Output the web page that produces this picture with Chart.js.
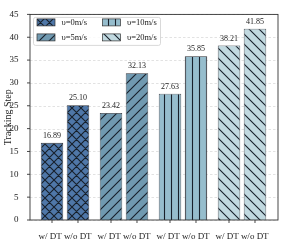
<!DOCTYPE html>
<html lang="en">
<head>
<meta charset="UTF-8">
<title>Tracking Step</title>
<script src="https://cdn.jsdelivr.net/npm/chart.js@4.4.0/dist/chart.umd.min.js"></script>
<style>
    html, body { margin: 0; padding: 0; background: #fff; }
</style>
</head>
<body>
<canvas id="myChart" width="283" height="240"></canvas>
<script>
    // data
    var groups = ['w/ DT w/o DT', 'w/ DT w/o DT', 'w/ DT w/o DT', 'w/ DT w/o DT'];
    var speeds = ['υ=0m/s', 'υ=5m/s', 'υ=10m/s', 'υ=20m/s'];
    var withDT = [16.89, 23.42, 27.63, 38.21];
    var withoutDT = [25.10, 32.13, 35.85, 41.85];
    var yTicks = [0, 5, 10, 15, 20, 25, 30, 35, 40, 45];

    var colors = ['#4f77a8', '#7099b0', '#96bdcd', '#c1d9e0'];
    var hatches = ['x', '/', '|', '\\'];
    var serif = "'Liberation Serif', 'DejaVu Serif', serif";
    var ink = '#18202b';

    function makePattern(color, hatch) {
        var size = hatch == '|' ? 7 : (hatch == 'x' ? 9 : 10);
        var c = document.createElement('canvas');
        c.width = size; c.height = size;
        var g = c.getContext('2d');
        g.fillStyle = color;
        g.fillRect(0, 0, size, size);
        g.strokeStyle = ink;
        g.lineWidth = 1.1;
        g.beginPath();
        if (hatch == '/' || hatch == 'x') {
            g.moveTo(0, size); g.lineTo(size, 0);
            g.moveTo(-1, 1); g.lineTo(1, -1);
            g.moveTo(size - 1, size + 1); g.lineTo(size + 1, size - 1);
        }
        if (hatch == '\\' || hatch == 'x') {
            g.moveTo(0, 0); g.lineTo(size, size);
            g.moveTo(size - 1, -1); g.lineTo(size + 1, 1);
            g.moveTo(-1, size - 1); g.lineTo(1, size + 1);
        }
        if (hatch == '|') {
            g.moveTo(3.5, 0); g.lineTo(3.5, size);
        }
        g.stroke();
        return g.createPattern(c, 'repeat');
    }

    var ctx = document.getElementById('myChart').getContext('2d');
    var patterns = colors.map(function (col, i) { return makePattern(col, hatches[i]); });

    var decor = {
        id: 'decor',
        beforeDatasetsDraw: function (chart) {
            var c = chart.ctx, a = chart.chartArea, y = chart.scales.y;
            var L = a.left - 5.5, R = a.right + 6.5;
            c.save();
            c.strokeStyle = '#d6d6d6';
            c.lineWidth = 0.7;
            c.setLineDash([2.5, 2]);
            yTicks.forEach(function (v) {
                var py = Math.round(y.getPixelForValue(v)) + 0.5;
                c.beginPath(); c.moveTo(L, py); c.lineTo(R, py); c.stroke();
            });
            c.restore();
        },
        afterDatasetsDraw: function (chart) {
            var c = chart.ctx, a = chart.chartArea, y = chart.scales.y;
            var L = a.left - 5.5, R = a.right + 6.5;
            c.save();

            // value labels
            c.fillStyle = '#222';
            c.font = '8px ' + serif;
            c.textAlign = 'center';
            c.textBaseline = 'bottom';
            chart.data.datasets.forEach(function (ds, di) {
                chart.getDatasetMeta(di).data.forEach(function (bar, j) {
                    c.fillText(ds.data[j].toFixed(2), bar.x, bar.y - 3);
                });
            });

            // frame + ticks
            c.strokeStyle = '#333';
            c.lineWidth = 0.9;
            c.strokeRect(L, a.top, R - L, a.bottom - a.top);
            c.beginPath();
            yTicks.forEach(function (v) {
                var py = y.getPixelForValue(v);
                c.moveTo(L - 3, py); c.lineTo(L, py);
            });
            chart.data.datasets.forEach(function (ds, di) {
                chart.getDatasetMeta(di).data.forEach(function (bar) {
                    c.moveTo(bar.x, a.bottom); c.lineTo(bar.x, a.bottom + 3);
                });
            });
            c.stroke();

            // legend
            var bx = a.left - 2, by = a.top + 3, bw = 127, bh = 28;
            c.fillStyle = 'rgba(255,255,255,0.85)';
            c.strokeStyle = '#cfcfcf';
            c.lineWidth = 0.8;
            c.beginPath();
            c.roundRect(bx, by, bw, bh, 2);
            c.fill(); c.stroke();
            c.font = '8.5px ' + serif;
            c.textAlign = 'left';
            c.textBaseline = 'middle';
            speeds.forEach(function (name, i) {
                var col = Math.floor(i / 2), row = i % 2;
                var px = bx + 3.5 + col * 65.5, py = by + 5 + row * 15;
                c.fillStyle = patterns[i];
                c.fillRect(px, py - 3.5, 18, 7);
                c.strokeStyle = '#333';
                c.lineWidth = 0.7;
                c.strokeRect(px, py - 3.5, 18, 7);
                c.fillStyle = '#222';
                c.fillText(name, px + 24.5, py);
            });
            c.restore();
        }
    };

    var barStyle = {
        backgroundColor: function (context) { return patterns[context.dataIndex]; },
        borderColor: '#2b2f36',
        borderWidth: 0.8,
        categoryPercentage: 0.881,
        barPercentage: 0.865
    };

    var myChart = new Chart(ctx, {
        type: 'bar',
        data: {
            labels: groups,
            datasets: [
                Object.assign({ label: 'w/ DT', data: withDT }, barStyle),
                Object.assign({ label: 'w/o DT', data: withoutDT }, barStyle)
            ]
        },
        options: {
            responsive: false,
            animation: false,
            devicePixelRatio: 1,
            layout: { padding: { left: 0, right: 11.5, top: 10, bottom: 0 } },
            plugins: {
                legend: { display: false },
                tooltip: { enabled: false }
            },
            scales: {
                x: {
                    grid: { display: false },
                    border: { display: false },
                    ticks: {
                        font: { family: serif, size: 9 },
                        color: '#222',
                        padding: 3,
                        maxRotation: 0,
                        autoSkip: false
                    },
                    afterFit: function (s) { s.height = 20; }
                },
                y: {
                    min: 0,
                    max: 45,
                    grid: { display: false },
                    border: { display: false },
                    ticks: {
                        font: { family: serif, size: 9 },
                        color: '#222',
                        padding: 9
                    },
                    afterBuildTicks: function (s) {
                        s.ticks = yTicks.map(function (v) { return { value: v }; });
                    },
                    title: {
                        display: true,
                        text: 'Tracking Step',
                        font: { family: serif, size: 10 },
                        color: '#222',
                        padding: { top: 2, bottom: 0 }
                    },
                    afterFit: function (s) { s.width = 35.5; }
                }
            }
        },
        plugins: [decor]
    });
</script>
</body>
</html>
